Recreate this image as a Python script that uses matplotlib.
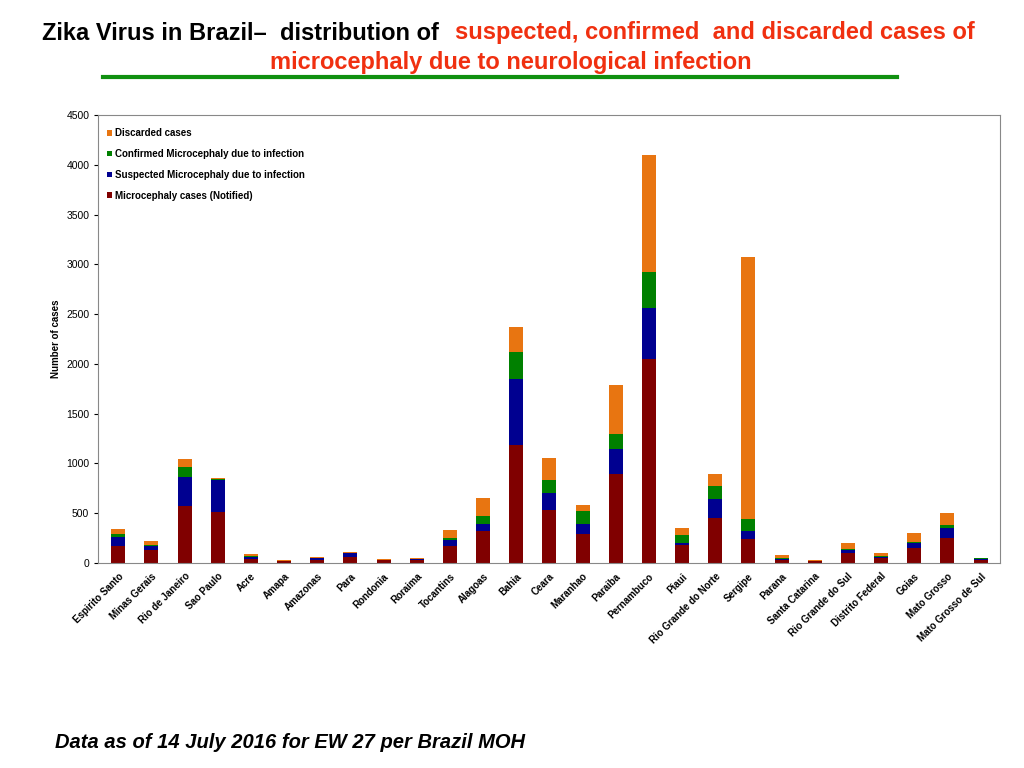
import matplotlib.pyplot as plt
import numpy as np

plt.rcParams['font.family'] = ['Liberation Sans', 'DejaVu Sans']

states = ["Espirito Santo", "Minas Gerais", "Rio de Janeiro", "Sao Paulo", "Acre", "Amapa",
          "Amazonas", "Para", "Rondonia", "Roraima", "Tocantins", "Alagoas", "Bahia", "Ceara",
          "Maranhao", "Paraiba", "Pernambuco", "Piaui", "Rio Grande do Norte", "Sergipe",
          "Parana", "Santa Catarina", "Rio Grande do Sul", "Distrito Federal", "Goias",
          "Mato Grosso", "Mato Grosso de Sul"]
notified = [170, 130, 570, 510, 40, 15, 30, 60, 25, 30, 170, 320, 1190, 530, 290, 890, 2050,
            180, 450, 240, 30, 15, 100, 50, 150, 250, 30]
suspected = [90, 40, 290, 320, 20, 5, 15, 35, 5, 8, 60, 70, 660, 170, 100, 260, 510,
             20, 190, 80, 10, 5, 30, 10, 50, 100, 10]
confirmed = [30, 10, 100, 15, 5, 3, 5, 5, 3, 2, 20, 80, 270, 130, 130, 150, 360,
             80, 130, 120, 5, 3, 10, 5, 10, 30, 5]
discarded = [50, 40, 80, 10, 25, 7, 10, 5, 7, 5, 85, 180, 250, 220, 60, 490, 1180,
             70, 120, 2630, 35, 5, 60, 35, 90, 120, 5]

fig = plt.figure(figsize=(10.24, 7.68), dpi=100)
ax = fig.add_axes([0.096, 0.267, 0.881, 0.583])
x = np.arange(len(states))
w = 0.42
b1 = np.array(notified)
b2 = b1 + suspected
b3 = b2 + confirmed
h1 = ax.bar(x, notified, w, color='#800000', label='Microcephaly cases (Notified)')
h2 = ax.bar(x, suspected, w, bottom=b1, color='#000090', label='Suspected Microcephaly due to infection')
h3 = ax.bar(x, confirmed, w, bottom=b2, color='#008000', label='Confirmed Microcephaly due to infection')
h4 = ax.bar(x, discarded, w, bottom=b3, color='#E87511', label='Discarded cases')

ax.set_xlim(-0.6, len(states) - 0.4)
ax.set_ylim(0, 4500)
ax.set_yticks(range(0, 4501, 500))
ax.tick_params(axis='y', labelsize=7.5, direction='out', length=3)
ax.set_xticks(x)
ax.set_xticklabels(states, rotation=45, ha='right', rotation_mode='anchor',
                   fontsize=7, fontweight='bold')
ax.tick_params(axis='x', length=0, pad=6)
ax.set_ylabel('Number of cases', fontsize=7, fontweight='bold')
for s in ax.spines.values():
    s.set_color('#888888')
    s.set_linewidth(0.8)

leg = ax.legend([h4, h3, h2, h1],
                ['Discarded cases', 'Confirmed Microcephaly due to infection',
                 'Suspected Microcephaly due to infection', 'Microcephaly cases (Notified)'],
                loc='upper left', bbox_to_anchor=(0.0, 0.99), frameon=False,
                prop={'size': 7, 'weight': 'bold'}, handlelength=0.5, handleheight=0.5,
                handletextpad=0.3, labelspacing=1.1)

fig.text(42 / 1024, 1 - 33 / 768, 'Zika Virus in Brazil\u2013  distribution of', fontsize=17,
         fontweight='bold', color='black', va='center', ha='left')
fig.text(455 / 1024, 1 - 33 / 768, 'suspected, confirmed  and discarded cases of', fontsize=17,
         fontweight='bold', color='#F03010', va='center', ha='left')
fig.text(511 / 1024, 1 - 63 / 768, 'microcephaly due to neurological infection', fontsize=17,
         fontweight='bold', color='#F03010', va='center', ha='center')
fig.add_artist(plt.Line2D([103 / 1024, 897 / 1024], [1 - 77 / 768, 1 - 77 / 768],
                          color='#109010', linewidth=3))
fig.text(55 / 1024, 1 - 742 / 768, 'Data as of 14 July 2016 for EW 27 per Brazil MOH', fontsize=14.5,
         fontweight='bold', style='italic', va='center', ha='left')

fig.savefig('out.png', dpi=100)
